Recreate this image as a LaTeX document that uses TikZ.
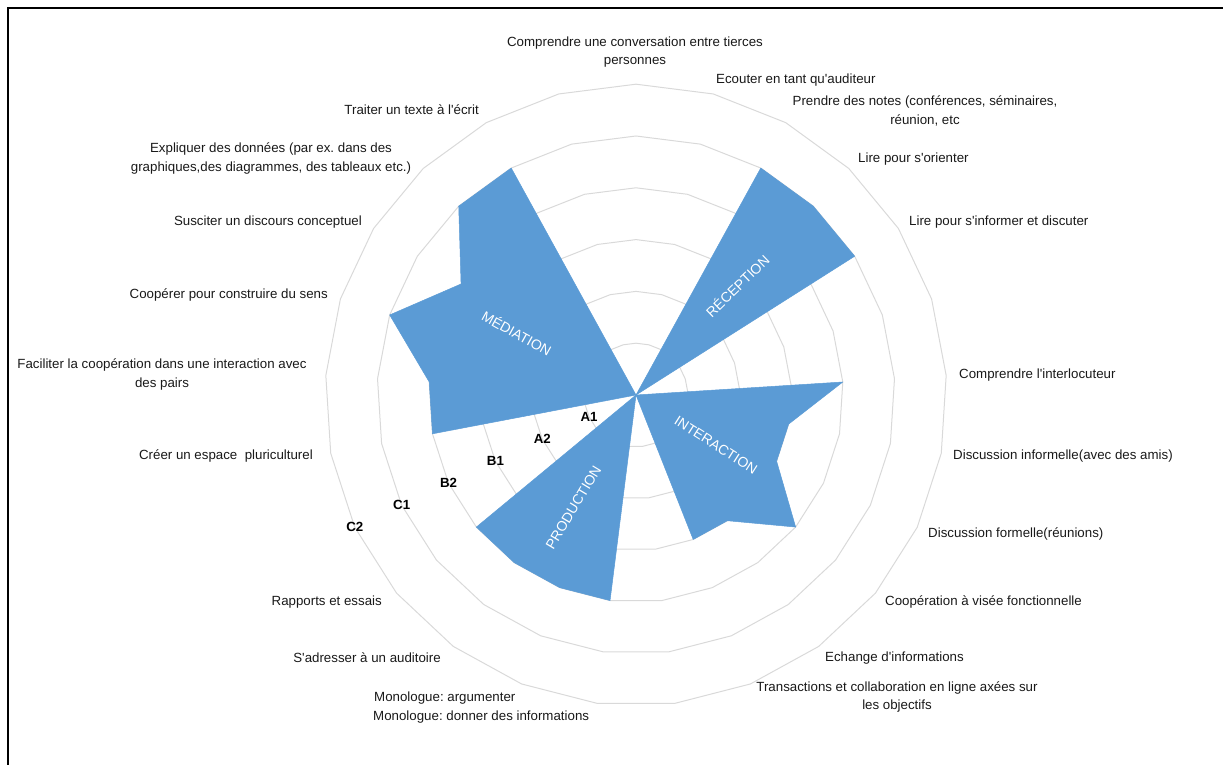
\documentclass[tikz,border=0pt]{standalone}
\usepackage{fontspec}
\setmainfont{Liberation Sans}[Ligatures=TeXOff]
\usepackage{tikz}
\usetikzlibrary{positioning}
\frenchspacing
\definecolor{zoneblue}{HTML}{5B9BD5}
\definecolor{gridgray}{HTML}{D9D9D9}
\tikzstyle{cat}=[inner sep=0pt, text=black!90, font=\fontsize{13.3}{18.6}\selectfont]
\tikzstyle{axlbl}=[inner sep=0pt, font=\fontsize{13.3}{16}\selectfont\bfseries]
\tikzstyle{zone}=[inner sep=0pt, text=white, font=\fontsize{14}{16}\selectfont]
\tikzstyle{gridline}=[draw=gridgray, line width=1]
\tikzstyle{area}=[fill=zoneblue, draw=zoneblue, line width=0.5, line join=round]
\newcommand{\lvl}{51.8}

\begin{document}
\begin{tikzpicture}[x=1pt, y=1pt]
  \useasboundingbox (0,0) rectangle (1223,765);
  \draw[line width=2] (8,0) -- (8,757) -- (1223,757);

  \begin{scope}[shift={(636,370)}]
    % rings A1 .. C2
    \foreach \k in {1,...,6}
      \draw[gridline] (90:\k*\lvl) \foreach \i in {1,...,24} {-- (90-14.4*\i:\k*\lvl)} -- cycle;

    % reception
    \fill[area] (0,0) -- (61.2:5*\lvl) -- (46.8:5*\lvl) -- (32.4:5*\lvl) -- cycle;
    % interaction
    \fill[area] (0,0) -- (3.6:4*\lvl) -- (-10.8:3*\lvl) -- (-25.2:3*\lvl)
      -- (-39.6:4*\lvl) -- (-54:3*\lvl) -- (-68.4:3*\lvl) -- cycle;
    % production
    \fill[area] (0,0) -- (-97.2:4*\lvl) -- (-111.6:4*\lvl) -- (-126:4*\lvl)
      -- (-140.4:4*\lvl) -- cycle;
    % mediation
    \fill[area] (0,0) -- (-169.2:4*\lvl) -- (176.4:4*\lvl) -- (162:5*\lvl)
      -- (147.6:4*\lvl) -- (133.2:5*\lvl) -- (118.8:5*\lvl) -- cycle;

    \foreach \k/\t in {1/A1,2/A2,3/B1,4/B2,5/C1,6/C2}
      \node[axlbl] (lvl\t) at (-154.8:\k*\lvl) {\t};
  \end{scope}

  \node[zone, rotate=-29] at (517,432) (mediation) {MÉDIATION};
  \node[zone, rotate=44] at (737,479.5) (reception) {RÉCEPTION};
  \node[zone, rotate=-32.4] at (716,320) (interaction) {INTERACTION};
  \node[zone, rotate=59] at (573.5,257.5) (production) {PRODUCTION};

  % categories
  \node[cat, align=center] at (635,713) (tierces) {Comprendre une conversation entre tierces\\personnes};
  \node[cat, anchor=west] at (716,684.5) (ecouter) {Ecouter en tant qu'auditeur};
  \node[cat, align=center] at (925,654) (notes) {Prendre des notes (conférences, séminaires,\\réunion, etc};
  \node[cat, anchor=west] at (858,606) (orienter) {Lire pour s'orienter};
  \node[cat, anchor=west] at (909,543) (informer) {Lire pour s'informer et discuter};
  \node[cat, anchor=west] at (959,390.4) (interloc) {Comprendre l'interlocuteur};
  \node[cat, anchor=west] at (953,309) (informelle) {Discussion informelle(avec des amis)};
  \node[cat, anchor=west] at (928,231) (formelle) {Discussion formelle(réunions)};
  \node[cat, anchor=west] at (885,163) (cooperation) {Coopération à visée fonctionnelle};
  \node[cat, anchor=west] at (825,107.4) (echange) {Echange d'informations};
  \node[cat, align=center] at (897,68) (transactions) {Transactions et collaboration en ligne axées sur\\les objectifs};
  \node[cat, anchor=west] at (374,67.4) (argumenter) {Monologue: argumenter};
  \node[cat, anchor=west] at (373,48) (donner) {Monologue: donner des informations};
  \node[cat, anchor=east] at (441,107.4) (auditoire) {S'adresser à un auditoire};
  \node[cat, anchor=east] at (382,163) (rapports) {Rapports et essais};
  \node[cat, anchor=east] at (313,309) (espace) {Créer un espace~ pluriculturel};
  \node[cat, align=center] at (162,390.5) (faciliter) {Faciliter la coopération dans une interaction avec\\des pairs};
  \node[cat, anchor=east] at (328,470) (sens) {Coopérer pour construire du sens};
  \node[cat, anchor=east] at (362,543) (susciter) {Susciter un discours conceptuel};
  \node[cat, align=center] at (271,606.5) (expliquer) {Expliquer des données (par ex. dans des\\graphiques,des diagrammes, des tableaux etc.)};
  \node[cat, anchor=east] at (479,655) (traiter) {Traiter un texte à l'écrit};
\end{tikzpicture}
\end{document}
